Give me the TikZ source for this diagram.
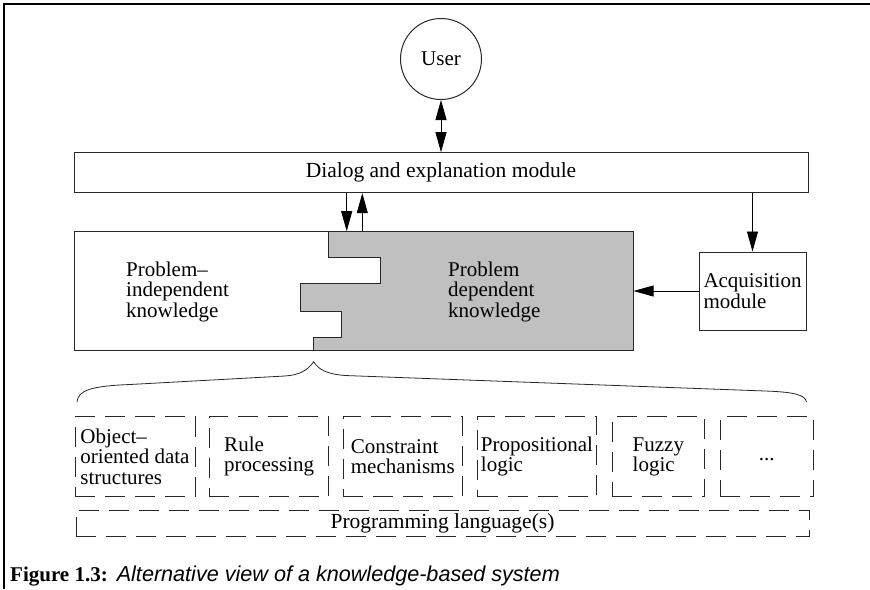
\documentclass[tikz,border=0pt]{standalone}
\usepackage{fontspec}
\setmainfont{Liberation Serif}
\setsansfont{Liberation Sans}
\usetikzlibrary{positioning,arrows.meta}

\definecolor{knowgray}{RGB}{192,192,192}
\definecolor{framegray}{RGB}{40,40,40}

\begin{document}
\begin{tikzpicture}[x=1pt, y=-1pt,
    font=\fontsize{21}{20.5}\selectfont,
    mod/.style = {draw=framegray, line width=1pt, inner sep=0pt, align=left},
    tool/.style = {draw=framegray, line width=0.9pt, dash pattern=on 20pt off 10pt, inner sep=0pt, minimum height=80pt, align=left},
    flow/.style = {-{Triangle[length=20pt,width=11pt]}, line width=0.8pt},
    twoway/.style = {{Triangle[length=20pt,width=11pt]}-{Triangle[length=20pt,width=11pt]}, line width=0.8pt}]

	\useasboundingbox (0,0) rectangle (870,589);
	% page frame
	\draw[line width=2.5pt] (4,589) -- (4,4) -- (870,4);

	\node[mod, circle, minimum size=81pt, align=center] (user) at (441,59) {User};
	\node[mod, minimum width=734pt, minimum height=40pt, align=center] (dialog) at (441,172.7) {\fontsize{21.5}{21.5}\selectfont Dialog and explanation module};

	% knowledge base, the grey part is the problem dependent one
	\node[mod, minimum width=558.7pt, minimum height=119pt] (know) at (353.7,291.2) {};
	\filldraw[fill=knowgray, draw=framegray, line width=1pt] (328,231.7) -- (328,257.3) -- (380.4,257.3) -- (380.4,283.3) -- (300.4,283.3) -- (300.4,311) -- (341,311) -- (341,337.3) -- (313.6,337.3) -- (313.6,350.7) -- (633,350.7) -- (633,231.7) -- cycle;
	\node[inner sep=0pt, anchor=west, align=left] (indep) at (126,291.5) {Problem--\\independent\\knowledge};
	\node[inner sep=0pt, anchor=west, align=left] (dep) at (448,291.5) {Problem\\dependent\\knowledge};

	\node[mod, minimum width=107pt, minimum height=78pt] (acq) at (752.5,291) {Acquisition\\module};

	\coordinate (down) at (346.7,0);
	\coordinate (up) at (362.3,0);
	\draw[twoway] (user) -- (dialog);
	\draw[flow] (down |- dialog.south) -- (down |- know.north);
	\draw[flow] (up |- know.north) -- (up |- dialog.south);
	\draw[flow] (dialog.south -| acq.north) -- (acq.north);
	\draw[flow] (acq.west) -- (acq.west -| know.east);

	% brace
	\coordinate (brace left) at (77,402);
	\coordinate (brace tip) at (313.6,361.7);
	\coordinate (brace right) at (806.5,402);
	\draw[framegray, line width=0.8pt] (brace left) .. controls (78,390) and (92,386) .. (130,384.5) -- (285,376) .. controls (300,375) and (308,370) .. (brace tip) .. controls (319,370) and (327,374) .. (345,375.5) -- (765,391) .. controls (795,392) and (805,395) .. (brace right);

	% techniques
	\node[tool, minimum width=120pt] (objects) at (135,456.7) {Object--\\oriented data\\structures};
	\node[tool, minimum width=119.5pt, right=13.5pt of objects] (rules) {Rule\\processing};
	\node[tool, minimum width=119pt, right=13.5pt of rules] (constraints) {Constraint\\mechanisms};
	\node[tool, minimum width=118.5pt, right=14.5pt of constraints] (logic) {Propositional\\logic};
	\node[tool, minimum width=92.5pt, right=15pt of logic] (fuzzy) {Fuzzy\\logic};
	\node[tool, minimum width=93.5pt, right=14.5pt of fuzzy] (more) {\strut...};
	\node[tool, minimum width=733pt, minimum height=26.7pt, align=center] (lang) at (442.5,523.4) {\fontsize{21.5}{21.5}\selectfont Programming language(s)};

	\node[inner sep=0pt, anchor=base west, font=\fontsize{21}{21}\selectfont] (caption) at (10,581) {\bfseries Figure 1.3:\hspace{9pt}\normalfont\sffamily\itshape\fontsize{21.6}{21.6}\selectfont Alternative view of a knowledge-based system};
\end{tikzpicture}
\end{document}
